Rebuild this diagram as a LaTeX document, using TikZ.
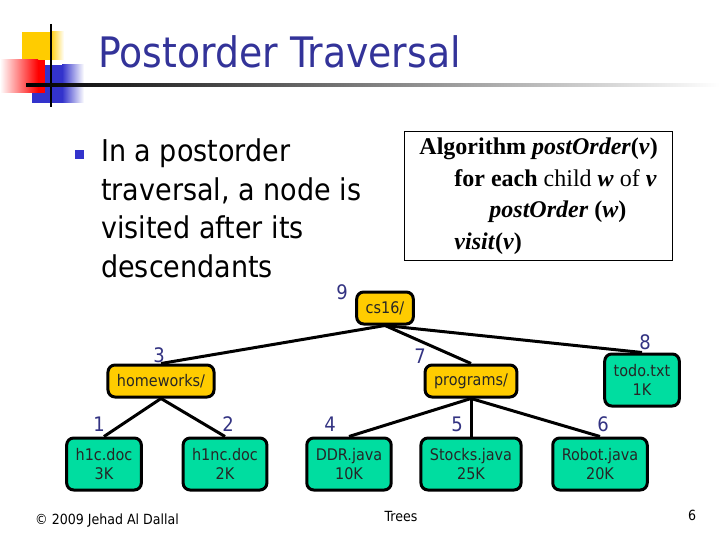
\documentclass[tikz,border=0pt]{standalone}
\usepackage{fontspec}
\setmainfont{DejaVu Sans}[FakeStretch=0.9]
\newfontfamily\algfont{Liberation Serif}
\definecolor{titleblue}{RGB}{51,51,153}
\definecolor{numblue}{RGB}{51,51,130}
\definecolor{dirfill}{RGB}{255,204,0}
\definecolor{filefill}{RGB}{0,221,160}
\definecolor{sqblue}{RGB}{51,51,204}

\begin{document}
\begin{tikzpicture}[x=1pt, y=-1pt,
    dir/.style={draw, line width=3pt, rounded corners=7pt, fill=dirfill, inner xsep=9pt,
      minimum height=32pt, font=\fontsize{16}{18.5}\selectfont, text=black!85},
    file/.style={dir, fill=filefill, align=center, minimum height=52pt},
    num/.style={text=numblue, font=\fontsize{20}{20}\selectfont, inner sep=0pt},
    edge/.style={line width=3pt}]
  \useasboundingbox (0,0) rectangle (720,540);

  % title corner
  \fill[dirfill] (22,32) rectangle (50,60);
  \shade[left color=dirfill, right color=white] (50,32) rectangle (64,60);
  \fill[sqblue] (32,65) rectangle (62,103);
  \shade[left color=sqblue, right color=white] (62,65) rectangle (84,103);
  \shade[left color=white, right color=red] (0,60) rectangle (38,93);
  \fill[red] (38,60) rectangle (45,93);
  \draw[line width=2.5pt] (51,24) -- (51,107);
  \shade[left color=black, right color=white] (26,83.5) rectangle (720,86.5);

  \node[anchor=base west, inner sep=0pt, text=titleblue, font=\fontsize{42}{42}\selectfont] (title) at (98,68) {Postorder Traversal};

  \fill[sqblue] (75,150) rectangle (84,159);
  \node[anchor=north west, inner sep=0pt, align=left, font=\fontsize{30}{38.5}\selectfont] (intro) at (101,139)
    {In a postorder\\traversal, a node is\\visited after its\\descendants};

  \node[draw, line width=1.2pt, anchor=north west, minimum width=268pt, minimum height=129pt,
    align=left, font=\algfont\fontsize{24}{31.7}\selectfont] (alg) at (404,131)
    {\textbf{Algorithm \textit{postOrder}(\textit{v})}\\
     \hspace*{35pt}\textbf{for each} child \textbf{\textit{w}} of \textbf{\textit{v}}\\
     \hspace*{70pt}\textbf{\textit{postOrder} (\textit{w})}\\
     \hspace*{35pt}\textbf{\textit{visit}(\textit{v})}};

  % the tree
  \node[dir] (cs16) at (385,308) {cs16/};
  \node[dir] (home) at (161,381) {homeworks/};
  \node[dir] (prog) at (471,381) {programs/};
  \node[file] (todo) at (642,380) {todo.txt\\1K};
  \node[file] (h1c) at (104,464) {h1c.doc\\3K};
  \node[file] (h1nc) at (225,464) {h1nc.doc\\2K};
  \node[file] (ddr) at (349,464) {DDR.java\\10K};
  \node[file] (stocks) at (471,464) {Stocks.java\\25K};
  \node[file] (robot) at (600,464) {Robot.java\\20K};

  \draw[edge] (cs16.south) -- (home.north);
  \draw[edge] (cs16.south) -- (prog.north);
  \draw[edge] (cs16.south) -- (todo.north);
  \draw[edge] (home.south) -- (h1c.north);
  \draw[edge] (home.south) -- (h1nc.north);
  \draw[edge] (prog.south) -- (ddr.north);
  \draw[edge] (prog.south) -- (stocks.north);
  \draw[edge] (prog.south) -- (robot.north);

  % visit order
  \node[num] (n9) at (342,292) {9};
  \node[num] (n3) at (159,355) {3};
  \node[num] (n7) at (420,356) {7};
  \node[num] (n8) at (645,342) {8};
  \node[num] (n1) at (99,424) {1};
  \node[num] (n2) at (228,424) {2};
  \node[num] (n4) at (330,424) {4};
  \node[num] (n5) at (457,424) {5};
  \node[num] (n6) at (603,424) {6};

  % footer
  \node[anchor=west, inner sep=0pt, font=\fontsize{14}{14}\selectfont] (copy) at (35,521) {© 2009 Jehad Al Dallal};
  \node[inner sep=0pt, font=\fontsize{14}{14}\selectfont] (foot) at (401,516) {Trees};
  \node[inner sep=0pt, font=\fontsize{14}{14}\selectfont] (page) at (692,515) {6};
\end{tikzpicture}
\end{document}
